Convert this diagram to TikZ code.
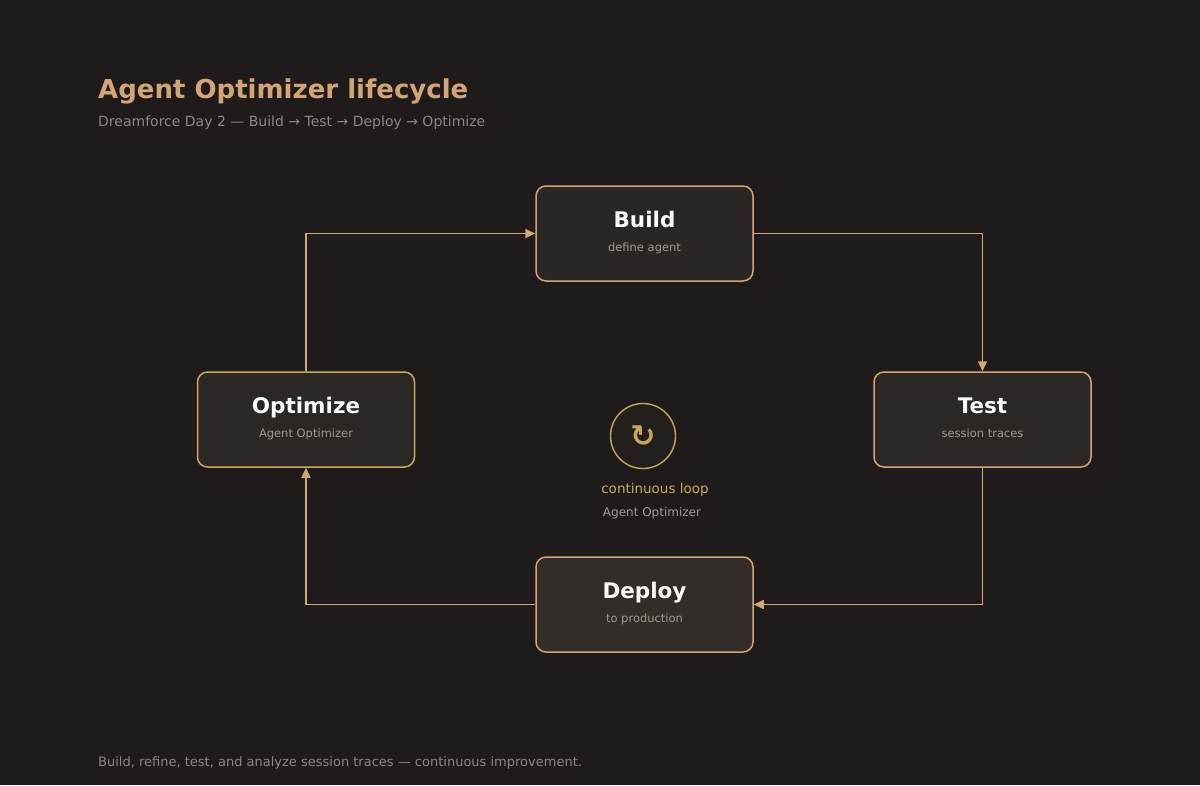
\documentclass[tikz,border=0pt]{standalone}
\usepackage{fontspec}
\setmainfont{DejaVu Sans}
\usetikzlibrary{arrows.meta}
\definecolor{bg}{HTML}{1E1B1A}
\definecolor{tan}{HTML}{D4A574}
\definecolor{gold}{HTML}{C9A85A}
\definecolor{line}{HTML}{CFA872}
\definecolor{grey}{HTML}{8F8881}
\definecolor{sub}{HTML}{A39A91}
\definecolor{fa}{HTML}{2A2624}
\definecolor{fb}{HTML}{2B2724}
\definecolor{fc}{HTML}{322D29}
\definecolor{fd}{HTML}{221F1C}
\begin{document}
\begin{tikzpicture}[x=1pt,y=-1pt,
  box/.style={draw=#1,line width=1.5pt,rounded corners=10pt,minimum width=217pt,minimum height=95pt,inner sep=0pt},
  ttl/.style={text=white!94!tan,font=\bfseries\fontsize{21.5}{25}\selectfont},
  st/.style={text=sub,font=\fontsize{11.5}{14}\selectfont},
  conn/.style={draw=line,line width=1.6pt,-{Triangle[length=10pt,width=9pt]}}]
\fill[bg] (0,0) rectangle (1200,785);
\useasboundingbox (0,0) rectangle (1200,785);
\node[anchor=base west,inner xsep=0pt,text=tan,font=\bfseries\fontsize{26}{30}\selectfont] (title) at (98,98) {Agent Optimizer lifecycle};
\node[anchor=base west,inner xsep=0pt,text=grey,font=\fontsize{14}{16}\selectfont] (subt) at (98,126) {Dreamforce Day 2 — Build → Test → Deploy → Optimize};
\node[anchor=base west,inner xsep=0pt,text=grey,font=\fontsize{13}{16}\selectfont] (foot) at (98,766) {Build, refine, test, and analyze session traces — continuous improvement.};

\node[box=tan,fill=fa] (build) at (644.5,233.5) {};
\node[box=tan,fill=fb] (test) at (982.5,419.5) {};
\node[box=gold,fill=fb] (opt) at (306,419.5) {};
\node[box=tan,fill=fc] (dep) at (644.5,604.5) {};
\foreach \n/\t/\s in {build/Build/define agent,test/Test/session traces,opt/Optimize/Agent Optimizer,dep/Deploy/to production}{
  \node[ttl,anchor=base] at ([yshift=6.5]\n.center) {\t};
  \node[st,anchor=base] at ([yshift=-18]\n.center) {\s};
}
\draw[conn] (build.east) -| (test.north);
\draw[conn] (test.south) |- (dep.east);
\draw[conn] (dep.west) -| (opt.south);
\draw[conn] (opt.north) |- (build.west);

\node[circle,draw=gold,line width=1.4pt,fill=fd,minimum size=65pt,inner sep=0pt,text=gold,font=\bfseries\fontsize{30}{32}\selectfont] (loop) at (643,436) {↻};
\node[anchor=base,text=gold,font=\fontsize{13.5}{16}\selectfont] (cl) at (655,493) {continuous loop};
\node[anchor=base,text=sub,font=\fontsize{12}{14}\selectfont] (ao) at (652,516) {Agent Optimizer};
\end{tikzpicture}
\end{document}
